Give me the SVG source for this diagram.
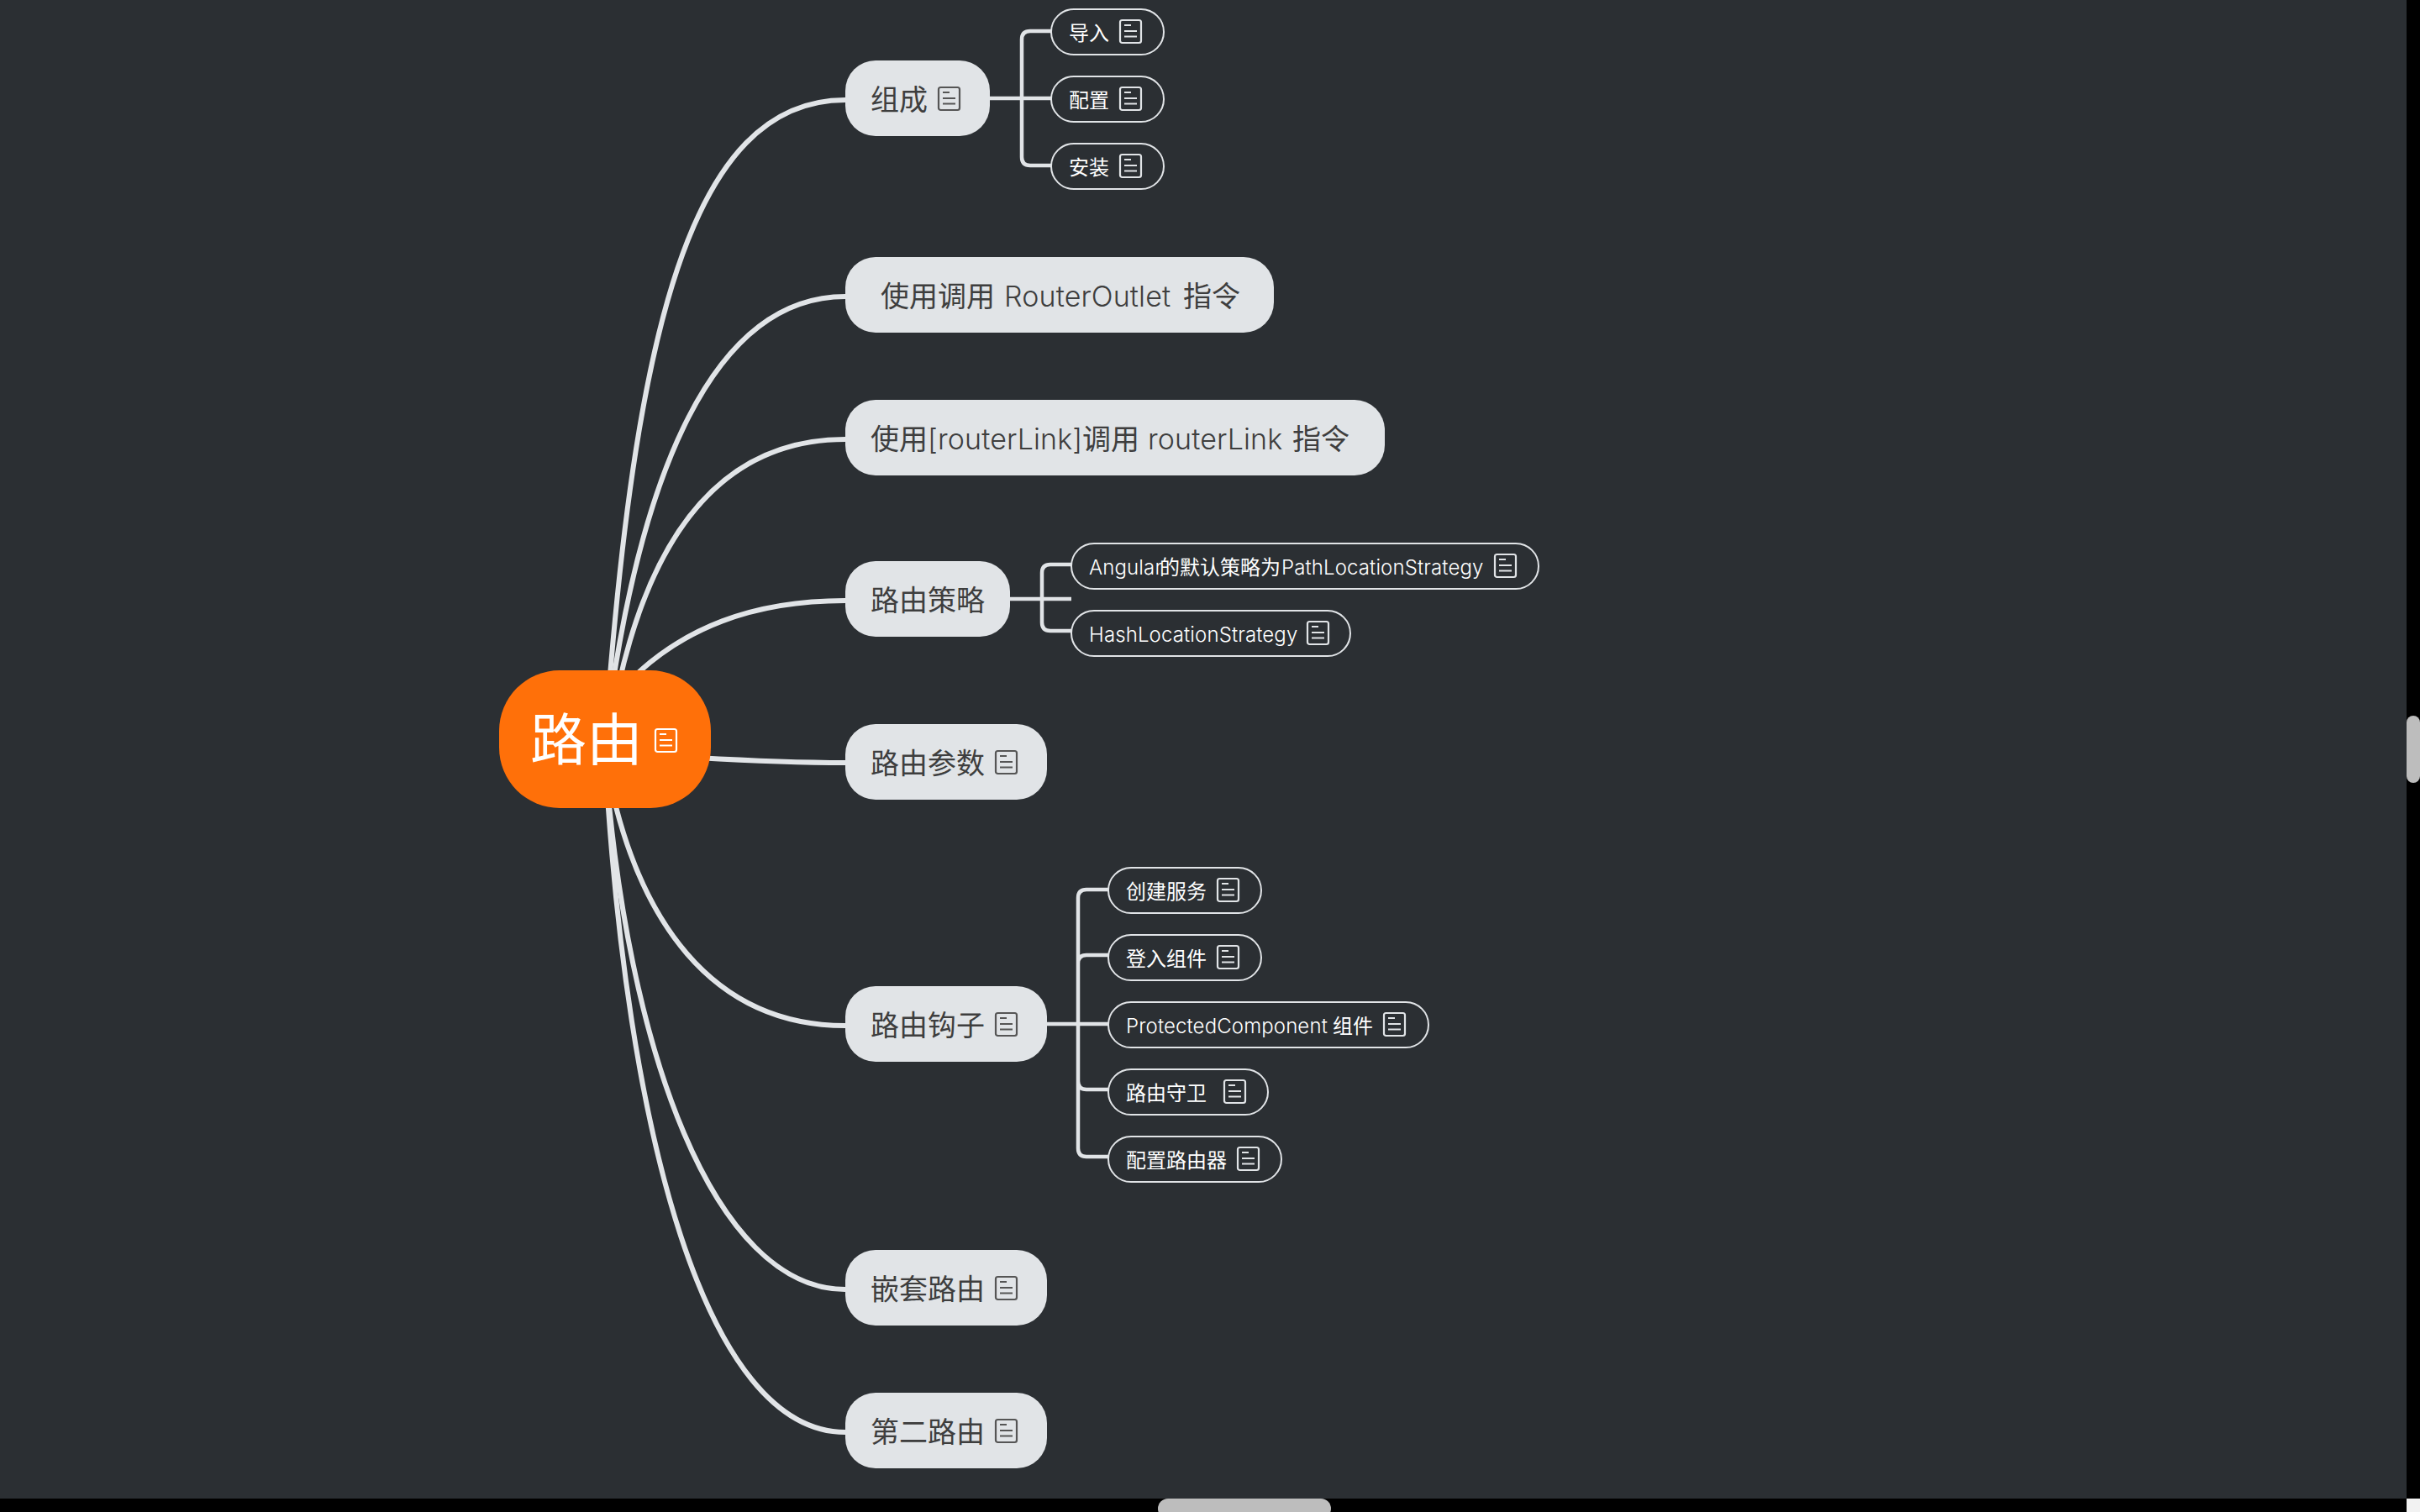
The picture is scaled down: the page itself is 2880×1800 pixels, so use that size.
<svg xmlns="http://www.w3.org/2000/svg" width="2880" height="1800" viewBox="0 0 2880 1800">
<style>
text{font-family:"Noto Sans CJK SC","Liberation Sans",sans-serif;font-weight:400}
.l{font-family:Inter,"Liberation Sans",sans-serif;font-weight:300;letter-spacing:.12px}
.main rect{fill:#e1e4e7}
.main text{font-size:34px;fill:#3e3e3e}
.main .ic{color:#555}
.sub rect{fill:#2b2f33;stroke:#e1e4e7;stroke-width:2}
.sub text{font-size:24px;fill:#fff}
.sub .ic{color:#e1e4e7}
.conn path{fill:none;stroke:#e1e4e7;stroke-linecap:butt}
.c1 path{stroke-width:6}
.c2 path{stroke-width:4.5}
.sb{fill:#bdbdbd}
</style>
<defs>
<g id="note" fill="none" stroke="currentColor" stroke-width="2.2">
<rect x="1" y="-13" width="25" height="27" rx="2.5"/>
<path d="M6-7H14M6 0H21M6 6.5H21"/>
</g>
</defs>
<rect width="2880" height="1800" fill="#000"/>
<rect width="2864" height="1784" fill="#2b2f33"/>
<rect x="2864" y="1784" width="16" height="16" fill="#f2f2f2"/>
<rect class="sb" x="1378" y="1784" width="206" height="24" rx="12"/>
<rect class="sb" x="2864" y="852" width="16" height="80" rx="8"/>
<g id="connectors" class="conn">
<g class="c1">
<path d="M720,880 C755,400 820,119 1006,119"/>
<path d="M720,880 C760,560 850,353 1006,353"/>
<path d="M724,880 C760,650 850,523 1006,523"/>
<path d="M740,820 C810,745 900,715 1006,715"/>
<path d="M830,902 C900,906 950,908 1006,908"/>
<path d="M720,900 C755,1100 850,1221 1006,1221"/>
<path d="M720,900 C745,1250 850,1535 1006,1535"/>
<path d="M720,900 C745,1350 840,1705 1006,1705"/>
</g>
<g class="c2">
<path d="M1178,117H1251M1251,37H1226Q1216,37 1216,47V187Q1216,197 1226,197H1251"/>
<path d="M1202,713H1275M1275,672H1250Q1240,672 1240,682V741Q1240,751 1250,751H1275"/>
<path d="M1246,1219H1319M1319,1059H1293Q1283,1059 1283,1069V1367Q1283,1377 1293,1377H1319M1319,1137H1293Q1283,1137 1283,1147M1319,1297H1293Q1283,1297 1283,1287"/>
</g>
</g>
<g id="root">
<rect x="594" y="798" width="252" height="164" rx="72" fill="#ff7009"/>
<text x="631" y="905" style="font-size:67px;fill:#fff">路由</text>
<use href="#note" x="779" y="881" color="#fff"/>
</g>
<g id="n1" class="main"><rect x="1006" y="72" width="172" height="90" rx="36"/><text x="1036" y="131">组成</text><use class="ic" href="#note" x="1116" y="117"/></g>
<g id="n2" class="main"><rect x="1006" y="306" width="510" height="90" rx="36"/><text x="1048" y="365">使用调用<tspan class="l" x="1195">RouterOutlet</tspan><tspan x="1408">指令</tspan></text></g>
<g id="n3" class="main"><rect x="1006" y="476" width="642" height="90" rx="36"/><text x="1036" y="535">使用<tspan class="l" x="1104">[routerLink]</tspan><tspan x="1288">调用</tspan><tspan class="l" x="1366">routerLink</tspan><tspan x="1538">指令</tspan></text></g>
<g id="n4" class="main"><rect x="1006" y="668" width="196" height="90" rx="36"/><text x="1036" y="727">路由策略</text></g>
<g id="n5" class="main"><rect x="1006" y="862" width="240" height="90" rx="36"/><text x="1036" y="921">路由参数</text><use class="ic" href="#note" x="1184" y="907"/></g>
<g id="n6" class="main"><rect x="1006" y="1174" width="240" height="90" rx="36"/><text x="1036" y="1233">路由钩子</text><use class="ic" href="#note" x="1184" y="1219"/></g>
<g id="n7" class="main"><rect x="1006" y="1488" width="240" height="90" rx="36"/><text x="1036" y="1547">嵌套路由</text><use class="ic" href="#note" x="1184" y="1533"/></g>
<g id="n8" class="main"><rect x="1006" y="1658" width="240" height="90" rx="36"/><text x="1036" y="1717">第二路由</text><use class="ic" href="#note" x="1184" y="1703"/></g>
<g id="s1" class="sub"><rect x="1251" y="11" width="134" height="54" rx="27"/><text x="1272" y="48">导入</text><use class="ic" href="#note" x="1332" y="37"/></g>
<g id="s2" class="sub"><rect x="1251" y="91" width="134" height="54" rx="27"/><text x="1272" y="128">配置</text><use class="ic" href="#note" x="1332" y="117"/></g>
<g id="s3" class="sub"><rect x="1251" y="171" width="134" height="54" rx="27"/><text x="1272" y="208">安装</text><use class="ic" href="#note" x="1332" y="197"/></g>
<g id="s4" class="sub"><rect x="1275" y="647" width="556" height="54" rx="27"/><text x="1296" y="684"><tspan class="l">Angular</tspan><tspan x="1380">的默认策略为</tspan><tspan class="l" x="1525">PathLocationStrategy</tspan></text><use class="ic" href="#note" x="1778" y="673"/></g>
<g id="s5" class="sub"><rect x="1275" y="727" width="332" height="54" rx="27"/><text x="1296" y="764" class="l">HashLocationStrategy</text><use class="ic" href="#note" x="1555" y="753"/></g>
<g id="s6" class="sub"><rect x="1319" y="1033" width="182" height="54" rx="27"/><text x="1340" y="1070">创建服务</text><use class="ic" href="#note" x="1448" y="1059"/></g>
<g id="s7" class="sub"><rect x="1319" y="1113" width="182" height="54" rx="27"/><text x="1340" y="1150">登入组件</text><use class="ic" href="#note" x="1448" y="1139"/></g>
<g id="s8" class="sub"><rect x="1319" y="1193" width="381" height="54" rx="27"/><text x="1340" y="1230"><tspan class="l">ProtectedComponent</tspan><tspan x="1586">组件</tspan></text><use class="ic" href="#note" x="1646" y="1219"/></g>
<g id="s9" class="sub"><rect x="1319" y="1273" width="190" height="54" rx="27"/><text x="1340" y="1310">路由守卫</text><use class="ic" href="#note" x="1456" y="1299"/></g>
<g id="s10" class="sub"><rect x="1319" y="1353" width="206" height="54" rx="27"/><text x="1340" y="1390">配置路由器</text><use class="ic" href="#note" x="1472" y="1379"/></g>
</svg>
